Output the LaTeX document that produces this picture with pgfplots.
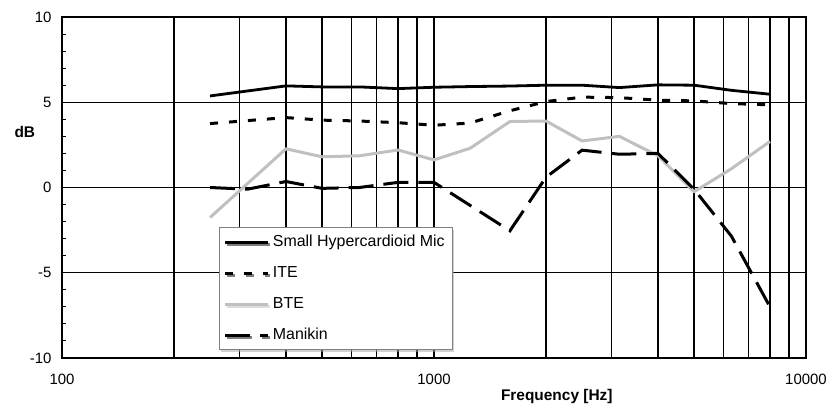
\documentclass[border=0pt]{standalone}
\usepackage{fontspec}
\setmainfont{Liberation Sans}
\usepackage{pgfplots}
\pgfplotsset{compat=1.18}
\usetikzlibrary{shadows}
\definecolor{btegray}{RGB}{192,192,192}

\begin{document}
\begin{tikzpicture}
\useasboundingbox (0,0) rectangle (831bp,409bp);
\begin{axis}[
  at={(62bp,51bp)}, anchor=south west,
  scale only axis, width=744bp, height=341bp,
  xmode=log, xmin=100, xmax=10000, ymin=-10, ymax=10,
  xtick={100,1000,10000}, xticklabels={100,1000,10000},
  minor xtick={200,300,400,500,600,700,800,900,2000,3000,4000,5000,6000,7000,8000,9000},
  ytick={-10,-5,0,5,10}, yticklabels={-10,-5,0,5,10},
  minor ytick={-9,-8,-7,-6,-4,-3,-2,-1,1,2,3,4,6,7,8,9},
  xmajorgrids, xminorgrids, ymajorgrids,
  major grid style={black, line width=1.1bp},
  minor grid style={black, line width=1.1bp},
  axis line style={black, line width=1.2bp},
  tick align=inside, tick pos=left,
  major tick length=0bp, minor tick length=4bp,
  tick style={black, line width=0.9bp},
  ticklabel style={font=\fontsize{15}{18}\selectfont},
  xticklabel style={yshift=-13bp},
  yticklabel style={xshift=-7bp},
  xlabel={Frequency [Hz]},
  xlabel style={font=\bfseries\fontsize{15.5}{18}\selectfont, at={(axis description cs:0.665,-0.1135)}, anchor=center},
  ylabel={dB},
  ylabel style={font=\bfseries\fontsize{15.5}{18}\selectfont, rotate=-90, at={(axis description cs:-0.05,0.664)}, anchor=center},
  legend cell align=left,
  legend style={at={(axis description cs:0.211,0.383)}, anchor=north west,
    draw=gray, line width=0.8bp, fill=white,
    drop shadow={shadow xshift=2bp, shadow yshift=-2bp, fill=gray!70},
    font=\fontsize{16}{19}\selectfont, row sep=11bp, inner xsep=4.5bp, inner ysep=4.5bp,
    nodes={text height=11bp, text depth=3bp, inner sep=3bp}},
  legend image code/.code={\draw[#1, line cap=butt] (0bp,0bp) -- (43bp,0bp);},
]
\addplot[black, line width=2.8bp, line join=round] coordinates {
(250,5.37) (400,5.96) (500,5.9) (630,5.9) (800,5.8) (1000,5.88) (1250,5.92) (1600,5.95)
(2000,6.0) (2500,6.0) (3150,5.86) (4000,6.02) (5000,6.0) (6300,5.7) (8000,5.47)};
\addlegendentry{Small Hypercardioid Mic}
\addplot[black, line width=3bp, dash pattern=on 8bp off 11bp] coordinates {
(250,3.75) (400,4.1) (500,3.95) (630,3.9) (800,3.8) (1000,3.65) (1250,3.78) (1600,4.5)
(2000,5.04) (2500,5.3) (3150,5.27) (4000,5.12) (5000,5.08) (6300,4.92) (8000,4.85)};
\addlegendentry{ITE}
\addplot[btegray, line width=3bp, line join=round] coordinates {
(250,-1.76) (400,2.27) (500,1.8) (630,1.86) (800,2.2) (1000,1.62) (1250,2.3) (1600,3.87)
(2000,3.9) (2500,2.73) (3150,3.0) (4000,1.86) (5000,-0.25) (6300,1.1) (8000,2.7)};
\addlegendentry{BTE}
\addplot[black, line width=3bp, dash pattern=on 25bp off 10bp] coordinates {
(250,0) (315,-0.1) (400,0.35) (500,-0.05) (630,0.0) (800,0.3) (1000,0.3) (1600,-2.54)
(2000,0.6) (2500,2.19) (3150,1.95) (4000,2.0) (5000,-0.1) (6300,-2.85) (8000,-7.0)};
\addlegendentry{Manikin}
\end{axis}
\end{tikzpicture}
\end{document}
